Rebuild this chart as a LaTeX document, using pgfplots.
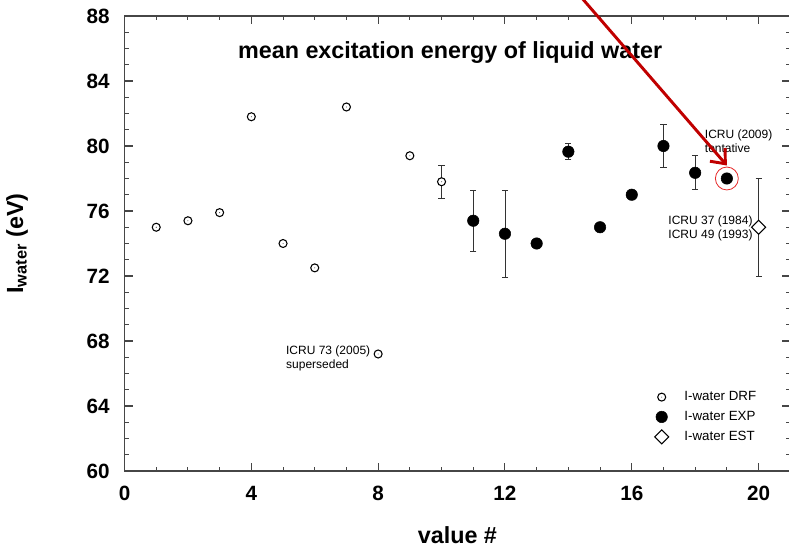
\documentclass[border=0pt]{standalone}
\usepackage{fontspec}
\setmainfont{Liberation Sans}
\usepackage{pgfplots}
\pgfplotsset{compat=1.18}
\usetikzlibrary{arrows.meta}
\definecolor{arrowred}{RGB}{192,0,0}
\definecolor{circred}{RGB}{230,40,40}
\definecolor{axgray}{RGB}{70,70,70}
\pgfdeclareplotmark{codot}{%
  \pgfpathcircle{\pgfpointorigin}{\pgfplotmarksize}%
  \pgfusepathqfillstroke
  \begin{pgfscope}%
  \pgfsetfillcolor{black!70}%
  \pgfpathcircle{\pgfpointorigin}{0.4pt}%
  \pgfusepathqfill
  \end{pgfscope}}
\begin{document}
\begin{tikzpicture}
\path[use as bounding box] (-93.4pt,-63.75pt) rectangle (498.35pt,353.25pt);
\begin{axis}[
  at={(0,0)}, anchor=south west,
  scale only axis, width=499.3pt, height=341.25pt,
  xmin=0, xmax=21, ymin=60, ymax=88,
  xtick={0,4,...,20}, ytick={60,64,...,88},
  minor x tick num=3, minor y tick num=3,
  tick align=inside, tick pos=both,
  major tick length=6pt, minor tick length=3pt,
  axis line style={axgray, line width=1pt},
  every tick/.style={axgray, line width=0.8pt},
  /pgf/number format/assume math mode=true,
  ticklabel style={font=\bfseries\fontsize{15.5}{16}\selectfont},
  xticklabel style={yshift=-8pt},
  yticklabel style={xshift=-7.7pt},
  xlabel={\textbf{value \#}},
  ylabel={\textbf{I\textsubscript{water} (eV)}},
  label style={font=\bfseries\fontsize{17.5}{19}\selectfont},
  xlabel style={at={(axis description cs:0.5,0)}, anchor=center, yshift=-48pt},
  ylabel style={at={(axis description cs:0,0.5)}, anchor=center, yshift=80.6pt},
  clip=false,
  legend style={draw=none, fill=none, at={(rel axis cs:0.79,0.187)}, anchor=north west,
    font=\fontsize{10}{12}\selectfont, row sep=2.5pt},
  legend cell align=left,
  legend image code/.code={\draw[#1] plot coordinates {(0pt,0pt)}; \path[draw=none, fill=none] (15pt,0pt) circle[radius=0pt];},
  error bars/error bar style={black!80, line width=0.6pt},
  error bars/error mark options={rotate=90, mark size=2.3pt, line width=0.6pt, black!80},
]
% DRF without error bars
\addplot[only marks, mark=codot, mark size=3pt, mark options={draw=black, fill=white, line width=0.8pt}]
  coordinates {(1,75.0) (2,75.4) (3,75.9) (4,81.8) (5,74.0) (6,72.5) (7,82.4) (8,67.2) (9,79.4)};
\addlegendentry{I-water DRF}
% EXP without error bars
\addplot[only marks, mark=*, mark size=4.3pt, mark options={draw=black, fill=black}]
  coordinates {(13,74.0) (15,75.0) (16,77.0) (19,78.0)};
\addlegendentry{I-water EXP}
% EST
\addplot[only marks, mark=square*, mark size=3.7pt, mark options={draw=black, fill=white, rotate=45, line width=0.8pt},
  error bars/.cd, y dir=both, y explicit]
  coordinates {(20,75.0) +- (0,3.0)};
\addlegendentry{I-water EST}
% DRF with error bars
\addplot[forget plot, only marks, mark=codot, mark size=3pt, mark options={draw=black, fill=white, line width=0.8pt},
  error bars/.cd, y dir=both, y explicit]
  coordinates {(10,77.8) +- (0,1.0)};
% EXP with error bars
\addplot[forget plot, only marks, mark=*, mark size=4.3pt, mark options={draw=black, fill=black},
  error bars/.cd, y dir=both, y explicit]
  table[x=x, y=y, y error plus=ep, y error minus=em] {
  x  y     ep    em
  11 75.4  1.85  1.9
  12 74.6  2.65  2.7
  14 79.65 0.5   0.45
  17 80.0  1.3   1.3
  18 78.35 1.05  1.0
};
% annotations
\node[font=\bfseries\fontsize{17.5}{19}\selectfont] at (axis cs:10.27,85.78) {mean excitation energy of liquid water};
\node[anchor=north west, align=left, inner sep=0pt, font=\fontsize{9}{10.5}\selectfont] at (axis cs:5.09,67.75) {ICRU 73 (2005)\\superseded};
\node[anchor=north west, align=left, inner sep=0pt, font=\fontsize{9}{10.5}\selectfont] at (axis cs:18.3,81.0) {ICRU (2009)\\tentative};
\node[anchor=north west, align=left, inner sep=0pt, font=\fontsize{9}{10.5}\selectfont] at (axis cs:17.15,75.7) {ICRU 37 (1984)\\ICRU 49 (1993)};
\draw[circred, line width=0.6pt] (axis cs:19,78) circle[radius=8.6pt];
\draw[arrowred, line width=2.2pt, -{Straight Barb[length=9pt, width=15pt]}] (axis cs:14.03,90) -- (axis cs:19.0,78.8);
\end{axis}
\end{tikzpicture}
\end{document}
